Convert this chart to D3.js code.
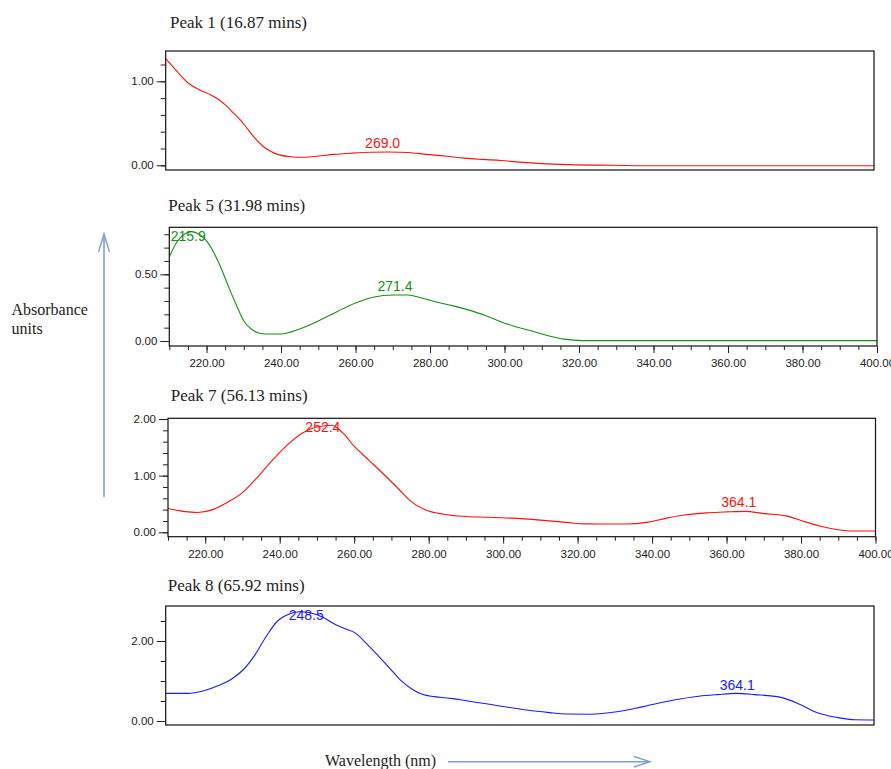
<!DOCTYPE html>
<html>
<head>
<meta charset="utf-8">
<script src="https://cdn.jsdelivr.net/npm/d3@7"></script>
<style>
  body { margin: 0; background: #fff; }
  svg { display: block; }
  .tick text { font-family: Arial, "Liberation Sans", sans-serif; font-size: 11.5px; fill: #222; }
  .tick line { stroke: #222; }
</style>
</head>
<body>
<svg id="chart" width="891" height="769"></svg>
<script>
const width = 891
const height = 769

// data (wavelength nm, absorbance AU)
const peak1Wl  = [210,213,216,219,222,224,226,228,230,232,234,236,238,240,243,247,251,255,260,265,270,275,280,285,290,295,300,305,311,318,330,342,360,380,400]
const peak1Abs = [1.27,1.12,0.98,0.90,0.84,0.79,0.72,0.63,0.54,0.43,0.32,0.23,0.17,0.13,0.105,0.095,0.11,0.13,0.145,0.155,0.158,0.152,0.13,0.11,0.085,0.07,0.058,0.038,0.02,0.008,0.0,-0.006,-0.006,-0.006,-0.006]

const peak5Wl  = [210,212,214,216,218,220,222,224,226,228,230,232,234,236,240,245,250,255,260,265,270,274,278,282,286,290,295,299,303,308,312,316,321,340,360,380,400]
const peak5Abs = [0.63,0.74,0.80,0.82,0.80,0.75,0.66,0.54,0.40,0.27,0.15,0.09,0.06,0.052,0.052,0.09,0.15,0.22,0.285,0.33,0.345,0.345,0.32,0.29,0.265,0.235,0.19,0.145,0.107,0.07,0.038,0.014,0.003,0.003,0.003,0.003,0.003]

const peak7Wl  = [210,214,218,222,226,230,234,238,242,246,250,254,257,260,264,268,272,275,279,284,290,296,302,310,317,322,333,339,344,349,355,360,365,370,376,380,385,389,394,400]
const peak7Abs = [0.42,0.37,0.35,0.40,0.53,0.70,0.97,1.27,1.54,1.75,1.86,1.89,1.75,1.52,1.27,1.02,0.76,0.56,0.40,0.32,0.28,0.265,0.25,0.215,0.175,0.148,0.146,0.18,0.25,0.31,0.345,0.36,0.37,0.33,0.29,0.21,0.11,0.055,0.023,0.023]

const peak8Wl  = [210,216,220,224,228,231,234,237,240,243,246,249,252,255,258,261,264,267,270,273,276,279,282,287,291,296,300,305,309,313,318,324,331,338,346,353,358,363,368,375,380,385,390,395,400]
const peak8Abs = [0.69,0.69,0.75,0.88,1.07,1.30,1.66,2.12,2.50,2.67,2.73,2.70,2.60,2.44,2.31,2.19,1.92,1.63,1.33,1.02,0.80,0.66,0.61,0.56,0.50,0.43,0.37,0.30,0.25,0.21,0.175,0.17,0.23,0.36,0.52,0.62,0.66,0.69,0.66,0.59,0.42,0.20,0.09,0.03,0.025]

const titles = ['Peak 1 (16.87 mins)', 'Peak 5 (31.98 mins)', 'Peak 7 (56.13 mins)', 'Peak 8 (65.92 mins)']
const peakLabels = [[269.0], [215.9, 271.4], [252.4, 364.1], [248.5, 364.1]]
const colors = ['#ff1010', '#1a8c1a', '#ff1010', '#1a1aff']
const xTicks = [220, 240, 260, 280, 300, 320, 340, 360, 380, 400]
const yMajor = [[0, 1], [0, 0.5], [0, 1, 2], [0, 2]]
const yMinorStep = [0.2, 0.1, 0.2, 0.5]
const yMax = [1.2, 0.8, 2.0, 2.5]

// panel boxes on the page
const panels = [
  {left: 165.7, top: 51,    right: 874,   bottom: 170,   y0: 165.3, y1: 81.3,  v1: 1,   titleX: 170,   titleY: 28,    axis: false},
  {left: 169.3, top: 227.3, right: 877,   bottom: 346,   y0: 341,   y1: 274.3, v1: 0.5, titleX: 168.3, titleY: 210.7, axis: true},
  {left: 168,   top: 418.3, right: 875.5, bottom: 536.7, y0: 532.3, y1: 419,   v1: 2,   titleX: 170.7, titleY: 400.7, axis: true},
  {left: 165.7, top: 606,   right: 874,   bottom: 725,   y0: 721,   y1: 641,   v1: 2,   titleX: 167.7, titleY: 590.7, axis: false}
]
const series = [[peak1Wl, peak1Abs], [peak5Wl, peak5Abs], [peak7Wl, peak7Abs], [peak8Wl, peak8Abs]]

const svg = d3.select('#chart')

panels.forEach((p, i) => {
  const [wl, ab] = series[i]
  const rows = wl.map((w, k) => ({w: w, a: ab[k]}))

  const x = d3.scaleLinear().domain([210, 400]).range([p.left, p.right])
  // y scale pinned through the 0 tick and an upper labelled tick
  const y = d3.scaleLinear().domain([0, p.v1]).range([p.y0, p.y1])

  const g = svg.append('g')

  g.append('text')
    .attr('x', p.titleX).attr('y', p.titleY)
    .attr('font-family', '"Liberation Serif", "Times New Roman", serif')
    .attr('font-size', 17).attr('fill', '#222')
    .text(titles[i])

  g.append('clipPath').attr('id', 'clip' + i)
    .append('rect')
    .attr('x', p.left).attr('y', p.top)
    .attr('width', p.right - p.left).attr('height', p.bottom - p.top)

  const line = d3.line().x(d => x(d.w)).y(d => y(d.a)).curve(d3.curveMonotoneX)
  g.append('path')
    .datum(rows)
    .attr('clip-path', `url(#clip${i})`)
    .attr('fill', 'none')
    .attr('stroke', colors[i])
    .attr('stroke-width', 1.1)
    .attr('d', line)

  g.append('rect')
    .attr('x', p.left).attr('y', p.top)
    .attr('width', p.right - p.left).attr('height', p.bottom - p.top)
    .attr('fill', 'none').attr('stroke', '#111').attr('stroke-width', 1.2)

  // y axis: minor ticks, then labelled major ticks
  const minor = d3.range(0, yMax[i] + 1e-9, yMinorStep[i])
  g.append('g').attr('transform', `translate(${p.left},0)`)
    .call(d3.axisLeft(y).tickValues(minor).tickSize(5).tickFormat(''))
    .call(a => a.select('.domain').remove())
  g.append('g').attr('transform', `translate(${p.left},0)`)
    .call(d3.axisLeft(y).tickValues(yMajor[i]).tickSize(9).tickPadding(3).tickFormat(d3.format('.2f')))
    .call(a => a.select('.domain').remove())

  if (p.axis) {
    g.append('g').attr('transform', `translate(0,${p.bottom})`)
      .call(d3.axisBottom(x).tickValues(d3.range(210, 401, 5)).tickSize(4).tickFormat(''))
      .call(a => a.select('.domain').remove())
    g.append('g').attr('transform', `translate(0,${p.bottom})`)
      .call(d3.axisBottom(x).tickValues(xTicks).tickSize(7).tickPadding(6).tickFormat(d3.format('.2f')))
      .call(a => a.select('.domain').remove())
  }

  // peak labels, kept inside the box
  const interp = w => {
    const k = d3.bisector(d => d.w).left(rows, w)
    if (k <= 0) return rows[0].a
    const r0 = rows[k - 1], r1 = rows[Math.min(k, rows.length - 1)]
    const t = r1.w === r0.w ? 0 : (w - r0.w) / (r1.w - r0.w)
    return r0.a + t * (r1.a - r0.a)
  }
  g.selectAll('text.peak').data(peakLabels[i]).enter().append('text')
    .attr('class', 'peak')
    .attr('x', d => x(d) - 3)
    .attr('y', d => Math.max(y(interp(d)) - 4, p.top + 14))
    .attr('text-anchor', 'middle')
    .attr('font-family', 'Arial, "Liberation Sans", sans-serif')
    .attr('font-size', 14)
    .attr('fill', colors[i])
    .text(d => d.toFixed(1))
})

// axis captions with their arrows
const arrowColor = '#7f9fcf'
svg.append('text')
  .attr('x', 11.5).attr('y', 315)
  .attr('font-family', '"Liberation Serif", "Times New Roman", serif')
  .attr('font-size', 16).attr('fill', '#222')
  .text('Absorbance')
svg.append('text')
  .attr('x', 11.5).attr('y', 334)
  .attr('font-family', '"Liberation Serif", "Times New Roman", serif')
  .attr('font-size', 16).attr('fill', '#222')
  .text('units')

svg.append('line')
  .attr('x1', 104).attr('y1', 497).attr('x2', 104).attr('y2', 234)
  .attr('stroke', arrowColor).attr('stroke-width', 1.6)
svg.append('path')
  .attr('d', 'M98.5,252 L104,234 L109.5,252')
  .attr('fill', 'none').attr('stroke', arrowColor).attr('stroke-width', 1.4)

svg.append('text')
  .attr('x', 325).attr('y', 766)
  .attr('font-family', '"Liberation Serif", "Times New Roman", serif')
  .attr('font-size', 16).attr('fill', '#222')
  .text('Wavelength (nm)')

svg.append('line')
  .attr('x1', 448).attr('y1', 761.7).attr('x2', 649).attr('y2', 761.7)
  .attr('stroke', arrowColor).attr('stroke-width', 1.6)
svg.append('path')
  .attr('d', 'M634,756.5 L650,761.7 L634,767')
  .attr('fill', 'none').attr('stroke', arrowColor).attr('stroke-width', 1.4)
</script>
</body>
</html>
